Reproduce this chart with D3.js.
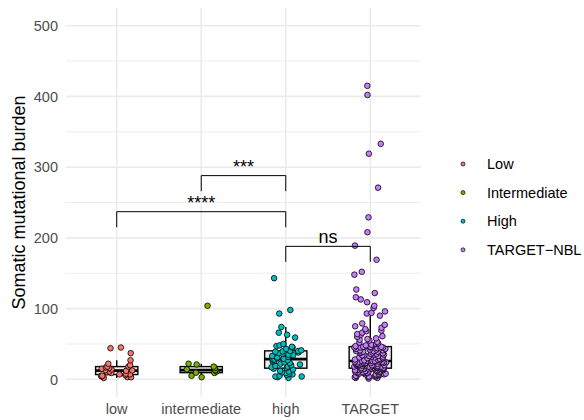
<!DOCTYPE html>
<html>
<head>
<meta charset="utf-8">
<script src="https://cdn.jsdelivr.net/npm/d3@7"></script>
<style>
  body { margin: 0; background: #fff; }
  text { font-family: "Liberation Sans", Arial, Helvetica, sans-serif; }
</style>
</head>
<body>
<svg id="chart" width="584" height="420"></svg>
<script>
// groups and colours
const categories = ["low", "intermediate", "high", "TARGET"];
const legendLabels = ["Low", "Intermediate", "High", "TARGET\u2212NBL"];
const colors = ["#F8766D", "#7CAE00", "#00BFC4", "#C77CFF"];

// somatic mutational burden per sample
const lowValues = [2, 3, 3, 4, 5, 5, 6, 7, 7, 8, 9, 10, 11, 12, 12.5, 13, 14, 15, 16, 17, 18, 18, 20, 22, 27, 37, 44, 45];
const intermediateValues = [3, 5, 9, 9.4, 11, 12.5, 13, 14, 16, 18, 21, 22, 104];
const highValues = [2, 3, 4, 4, 5, 6, 7, 8, 9, 10, 11, 12, 14, 15,
  16, 17, 18, 19, 20, 21, 22, 23, 24, 25, 26, 27, 28, 28,
  29, 30, 31, 32, 33, 34, 35, 36, 37, 38, 39, 39.5, 40, 40,
  41, 43, 45, 46, 47, 48, 50, 59, 63, 66, 74, 93, 98, 143];
const targetValues = [1, 2, 2, 3, 3, 4, 4, 4, 5, 5, 5, 6, 6, 7, 7, 7, 8, 8, 8, 9, 9, 9,
  10, 10, 10, 11, 11, 11, 12, 12, 12, 13, 13, 13, 13, 14, 14, 14, 14, 15, 15, 15, 15, 15, 15,
  16, 16, 16, 16, 17, 17, 17, 17, 18, 18, 18, 18, 19, 19, 19, 19, 20, 20, 20, 20,
  21, 21, 21, 21, 22, 22, 22, 22, 23, 23, 23, 23, 24, 24, 24, 24, 25, 25, 25, 25, 26, 26, 26, 26, 26,
  26, 27, 27, 28, 28, 29, 29, 30, 30, 31, 31, 32, 32, 33, 33, 34, 34, 35, 35, 36, 36,
  37, 37, 38, 38, 39, 39, 40, 40, 41, 41, 42, 42, 43, 43, 44, 44, 45, 45, 45, 45, 46, 46, 46, 46,
  47, 48, 49, 50, 51, 52, 53, 55, 56, 57, 58, 60, 61, 63, 64, 66, 68, 69, 71, 73, 75, 77, 79,
  90, 93, 94, 96, 101, 104, 109, 113, 116, 122, 127, 148, 152, 169, 189, 208, 229, 271, 319, 333, 402, 415];
const groupValues = [lowValues, intermediateValues, highValues, targetValues];

const yTicks = [0, 100, 200, 300, 400, 500];
const yMinorTicks = [50, 150, 250, 350, 450];

// pairwise comparisons
const bracketFrom = ["low", "intermediate", "high"];
const bracketTo = ["high", "high", "TARGET"];
const bracketY = [237, 288, 188];
const bracketLabels = ["****", "***", "ns"];
const bracketTip = 22;

const svg = d3.select("#chart");
const pLeft = 66, pRight = 421, pTop = 8, pBottom = 397;

const x = d3.scalePoint().domain(categories).range([pLeft, pRight]).padding(0.6);
const y = d3.scaleLinear().domain([-25, 525]).range([pBottom, pTop]);
const step = x.step();

// grid
svg.append("g").selectAll("line").data(yMinorTicks).enter().append("line")
  .attr("x1", pLeft).attr("x2", pRight)
  .attr("y1", d => y(d)).attr("y2", d => y(d))
  .attr("stroke", "#ebebeb").attr("stroke-width", 0.9);
svg.append("g").selectAll("line").data(yTicks).enter().append("line")
  .attr("x1", pLeft).attr("x2", pRight)
  .attr("y1", d => y(d)).attr("y2", d => y(d))
  .attr("stroke", "#ebebeb").attr("stroke-width", 1.6);
svg.append("g").selectAll("line").data(categories).enter().append("line")
  .attr("x1", d => x(d)).attr("x2", d => x(d))
  .attr("y1", pTop).attr("y2", pBottom)
  .attr("stroke", "#ebebeb").attr("stroke-width", 1.6);

// axes text
svg.append("g").selectAll("text").data(yTicks).enter().append("text")
  .attr("x", 58).attr("y", d => y(d)).attr("dy", "0.36em")
  .attr("text-anchor", "end").attr("font-size", 14.5).attr("fill", "#4d4d4d")
  .text(d => d);
svg.append("g").selectAll("text").data(categories).enter().append("text")
  .attr("x", d => x(d)).attr("y", 414)
  .attr("text-anchor", "middle").attr("font-size", 14.5).attr("fill", "#4d4d4d")
  .text(d => d);
svg.append("text")
  .attr("transform", "translate(25," + ((pTop + pBottom) / 2) + ") rotate(-90)")
  .attr("text-anchor", "middle").attr("font-size", 18).attr("fill", "#000")
  .text("Somatic mutational burden");

// box stats
let boxes = groupValues.map(function (vals, i) {
  let s = vals.slice().sort(d3.ascending);
  let q1 = d3.quantile(s, 0.25), med = d3.quantile(s, 0.5), q3 = d3.quantile(s, 0.75);
  let iqr = q3 - q1;
  let lo = d3.min(s.filter(v => v >= q1 - 1.5 * iqr));
  let hi = d3.max(s.filter(v => v <= q3 + 1.5 * iqr));
  return { cat: categories[i], q1: q1, med: med, q3: q3, lo: lo, hi: hi };
});

let bw = step * 0.5;
let box = svg.append("g").selectAll("g").data(boxes).enter().append("g");
box.append("line")
  .attr("x1", d => x(d.cat)).attr("x2", d => x(d.cat))
  .attr("y1", d => y(d.q3)).attr("y2", d => y(d.hi))
  .attr("stroke", "#000").attr("stroke-width", 1.4);
box.append("line")
  .attr("x1", d => x(d.cat)).attr("x2", d => x(d.cat))
  .attr("y1", d => y(d.q1)).attr("y2", d => y(d.lo))
  .attr("stroke", "#000").attr("stroke-width", 1.4);
box.append("rect")
  .attr("x", d => x(d.cat) - bw / 2).attr("width", bw)
  .attr("y", d => y(d.q3)).attr("height", d => y(d.q1) - y(d.q3))
  .attr("fill", "#ededed").attr("stroke", "#000").attr("stroke-width", 1.4);
box.append("line")
  .attr("x1", d => x(d.cat) - bw / 2).attr("x2", d => x(d.cat) + bw / 2)
  .attr("y1", d => y(d.med)).attr("y2", d => y(d.med))
  .attr("stroke", "#000").attr("stroke-width", 2.6);

// jittered points
let seed = 12345;
function rand() {
  seed = (seed * 16807) % 2147483647;
  return seed / 2147483647;
}
let points = [];
groupValues.forEach(function (vals, i) {
  vals.forEach(function (v) {
    points.push({ cat: categories[i], color: colors[i], value: v, dx: (rand() * 2 - 1) * 0.19 * step });
  });
});
svg.append("g").selectAll("circle").data(points).enter().append("circle")
  .attr("cx", d => x(d.cat) + d.dx).attr("cy", d => y(d.value))
  .attr("r", 2.8).attr("fill", d => d.color)
  .attr("stroke", "#000").attr("stroke-width", 0.8);

// brackets
let br = svg.append("g").selectAll("g").data(bracketLabels).enter().append("g");
br.append("path")
  .attr("d", function (d, i) {
    let x1 = x(bracketFrom[i]), x2 = x(bracketTo[i]);
    let yt = y(bracketY[i]), yb = y(bracketY[i] - bracketTip);
    return "M" + x1 + "," + yb + "V" + yt + "H" + x2 + "V" + yb;
  })
  .attr("fill", "none").attr("stroke", "#000").attr("stroke-width", 1);
br.append("text")
  .attr("x", (d, i) => (x(bracketFrom[i]) + x(bracketTo[i])) / 2)
  .attr("y", (d, i) => y(bracketY[i]) - 3)
  .attr("text-anchor", "middle").attr("font-size", 18).attr("fill", "#000")
  .text(d => d);

// legend
let lg = svg.append("g").selectAll("g").data(legendLabels).enter().append("g")
  .attr("transform", (d, i) => "translate(463," + (164 + i * 28.6) + ")");
lg.append("circle").attr("r", 2).attr("fill", (d, i) => colors[i])
  .attr("stroke", "#000").attr("stroke-width", 0.7);
lg.append("text").attr("x", 24).attr("dy", "0.36em")
  .attr("font-size", 14.5).attr("fill", "#000")
  .text(d => d);
</script>
</body>
</html>
